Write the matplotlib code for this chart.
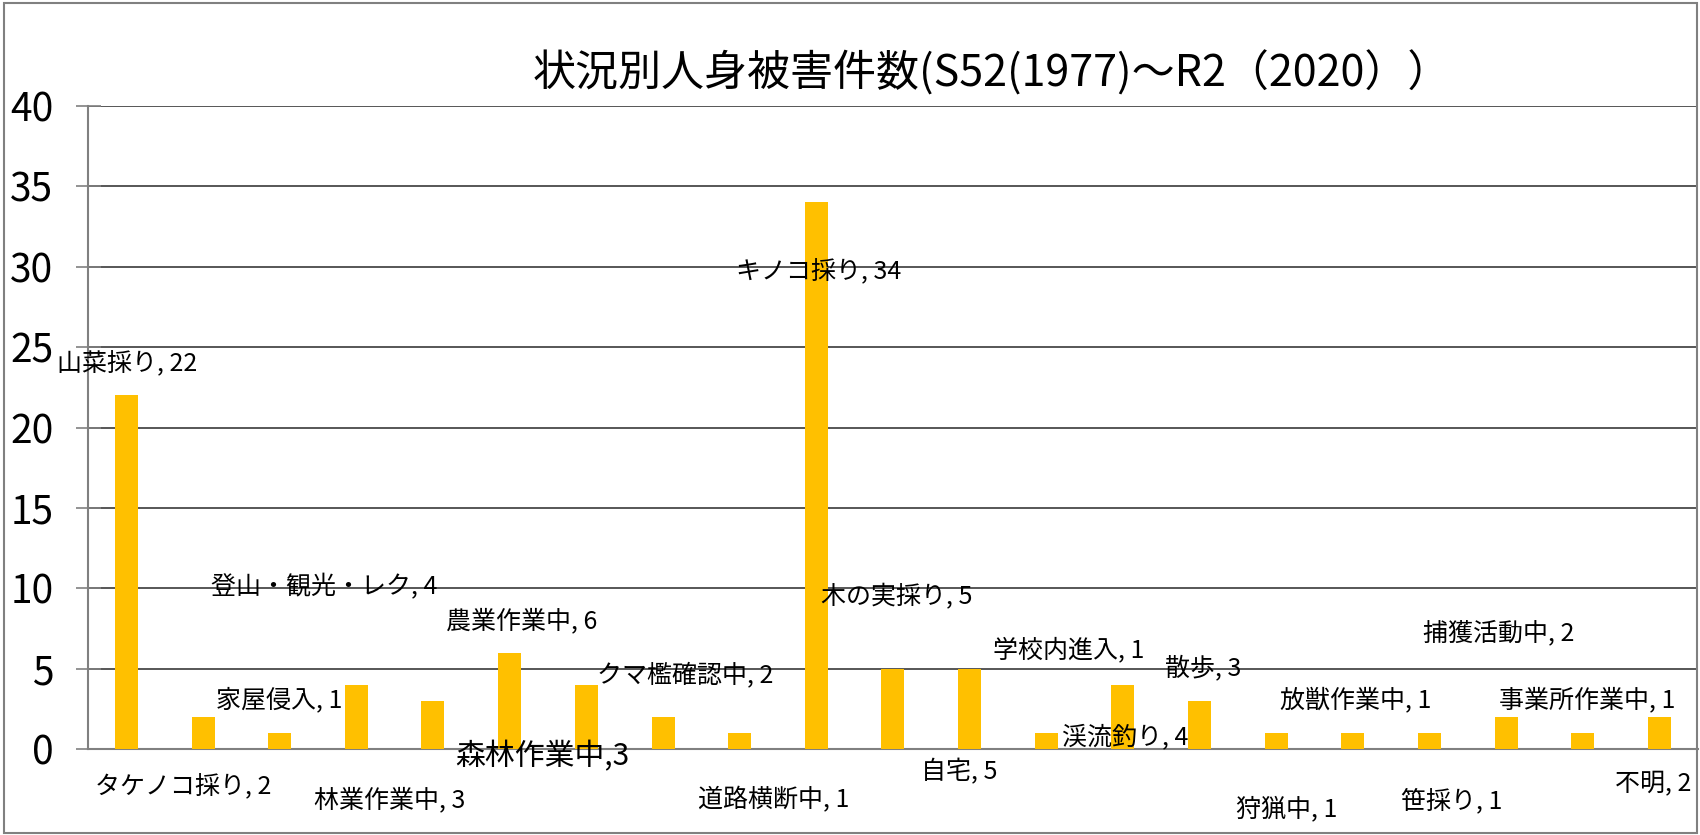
import matplotlib
matplotlib.use('Agg')
import matplotlib.pyplot as plt
from matplotlib.patches import Rectangle

plt.rcParams['font.family'] = ['Noto Sans CJK JP', 'DejaVu Sans']

categories = ['山菜採り', 'タケノコ採り', '家屋侵入', '登山・観光・レク', '林業作業中',
              '農業作業中', '森林作業中', 'クマ檻確認中', '道路横断中', 'キノコ採り',
              '木の実採り', '自宅', '学校内進入', '渓流釣り', '散歩', '狩猟中',
              '放獣作業中', '笹採り', '捕獲活動中', '事業所作業中', '不明']
values = [22, 2, 1, 4, 3, 6, 4, 2, 1, 34, 5, 5, 1, 4, 3, 1, 1, 1, 2, 1, 2]
# label text as shown in the chart (the 森林作業中 one was edited by hand)
label_texts = ['山菜採り, 22', 'タケノコ採り, 2', '家屋侵入, 1', '登山・観光・レク, 4',
               '林業作業中, 3', '農業作業中, 6', '森林作業中,3', 'クマ檻確認中, 2',
               '道路横断中, 1', 'キノコ採り, 34', '木の実採り, 5', '自宅, 5',
               '学校内進入, 1', '渓流釣り, 4', '散歩, 3', '狩猟中, 1', '放獣作業中, 1',
               '笹採り, 1', '捕獲活動中, 2', '事業所作業中, 1', '不明, 2']
yticks = [0, 5, 10, 15, 20, 25, 30, 35, 40]
title = '状況別人身被害件数(S52(1977)～R2（2020））'

# label placement (x offset from bar, y in axis units) - labels were dragged around
label_dx = [0.01, -0.26, 0.0, -0.42, -0.56, 0.16, -0.57, 0.29, 0.44, 0.03, 0.05,
            -0.14, 0.29, 0.03, 0.04, 0.14, 0.04, 0.29, -0.1, 0.06, -0.08]
label_y = [24.0, -2.3, 3.05, 10.08, -3.17, 7.97, -0.5, 4.6, -3.17, 29.7, 9.46,
           -1.43, 6.16, 0.75, 5.04, -3.73, 3.05, -3.24, 7.22, 3.05, -2.18]

fig = plt.figure(figsize=(17, 8.35), dpi=100)
ax = fig.add_axes([88 / 1700, 86 / 835, 1610 / 1700, 643 / 835])

x = list(range(len(categories)))
ax.bar(x, values, width=0.3, color='#FFC000', zorder=3)

ax.set_xlim(-0.5, len(categories) - 0.5)
ax.set_ylim(0, 40)
ax.set_yticks(yticks)
ax.set_xticks([])
ax.yaxis.grid(True, color='#3a3a3a', linewidth=1.2, zorder=0)
ax.tick_params(axis='y', direction='inout', length=18, width=1.2, color='#808080',
               labelsize=28, pad=16)

for side in ['top', 'right']:
    ax.spines[side].set_visible(False)
for side in ['left', 'bottom']:
    ax.spines[side].set_color('#808080')
    ax.spines[side].set_linewidth(1.5)

for i, txt in enumerate(label_texts):
    size = 21.5 if txt == '森林作業中,3' else 18
    ax.text(i + label_dx[i], label_y[i], txt, ha='center', va='center',
            fontsize=size, zorder=4, clip_on=False)

fig.text(992 / 1700, 1 - 74 / 835, title, ha='center', va='center', fontsize=31)

fig.patches.append(Rectangle((4 / 1700, 2 / 835), 1693 / 1700, 830 / 835,
                             transform=fig.transFigure, fill=False,
                             edgecolor='#808080', linewidth=1.5))

fig.savefig('out.png', dpi=100)
